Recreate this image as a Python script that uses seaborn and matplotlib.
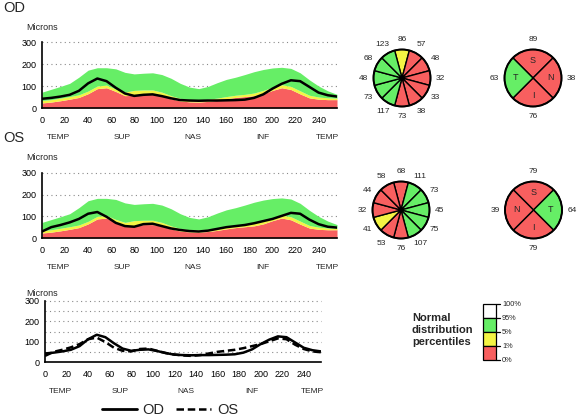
import matplotlib
matplotlib.use("Agg")
import numpy as np
import pandas as pd
import matplotlib.pyplot as plt
import seaborn as sns
from matplotlib.patches import Wedge, Circle, Rectangle
from matplotlib.lines import Line2D

# ---------------- data ----------------
angle_pos = list(range(0, 257, 8))
norm_p1 = [23, 27, 33, 40, 48, 65, 88, 92, 75, 56, 58, 62, 62, 55, 42, 32, 28,
           27, 30, 35, 42, 48, 52, 56, 65, 80, 92, 84, 64, 46, 40, 38, 38]
norm_p5 = [34, 38, 45, 52, 60, 77, 100, 104, 86, 72, 80, 82, 82, 72, 56, 44, 38,
           37, 40, 45, 52, 58, 62, 68, 80, 94, 106, 98, 78, 58, 50, 46, 45]
norm_p95 = [72, 85, 98, 112, 140, 172, 183, 183, 178, 162, 155, 158, 160, 152, 135, 112, 95,
            88, 98, 115, 130, 140, 152, 165, 175, 182, 185, 180, 160, 128, 100, 78, 62]
od_thickness = [42, 46, 52, 60, 78, 112, 134, 122, 92, 66, 55, 60, 62, 54, 44, 36, 34,
                33, 34, 34, 35, 36, 38, 46, 62, 88, 110, 126, 122, 96, 70, 58, 52]
os_thickness = [30, 50, 60, 72, 88, 112, 120, 98, 70, 55, 52, 64, 66, 55, 44, 37, 32,
                30, 34, 42, 50, 55, 60, 68, 78, 88, 102, 116, 112, 85, 64, 52, 48]

x_ticks = list(range(0, 241, 20))
y_ticks = [0, 100, 200, 300]
sector_names = ["TEMP", "SUP", "NAS", "INF", "TEMP"]
sector_pos = [14, 70, 131, 192, 248]

# clock hours in order 12, 1, 2, ..., 11
od_clock_values = [86, 57, 48, 32, 33, 38, 73, 117, 73, 48, 68, 123]
od_clock_status = ["Y", "R", "R", "R", "R", "R", "R", "G", "G", "G", "G", "G"]
os_clock_values = [68, 111, 73, 45, 75, 107, 76, 53, 41, 32, 44, 58]
os_clock_status = ["R", "G", "G", "G", "G", "G", "R", "R", "Y", "R", "R", "R"]

# quadrants in order top, right, bottom, left
od_quad_letters = ["S", "N", "I", "T"]
od_quad_values = [89, 38, 76, 63]
od_quad_status = ["R", "R", "R", "G"]
os_quad_letters = ["S", "T", "I", "N"]
os_quad_values = [79, 64, 79, 39]
os_quad_status = ["R", "G", "R", "R"]

legend_pcts = ["100%", "95%", "5%", "1%", "0%"]

RED = "#F85F5F"
YELLOW = "#F4F444"
GREEN = "#66EE66"
STATUS_COLORS = {"R": RED, "Y": YELLOW, "G": GREEN}

# ---------------- style ----------------
sns.set_style("white")
plt.rcParams["font.family"] = ["Liberation Sans", "DejaVu Sans"]

W, H = 579, 420
fig = plt.figure(figsize=(W / 100, H / 100), dpi=100)


def px_axes(x0, y0, x1, y1):
    return fig.add_axes([x0 / W, 1 - y1 / H, (x1 - x0) / W, (y1 - y0) / H])


def setup(ax, levels):
    ax.set_xlim(0, 256)
    ax.set_ylim(0, 300)
    ax.set_xticks(x_ticks)
    ax.set_xticks(list(range(0, 257, 10)), minor=True)
    ax.set_yticks(y_ticks)
    ax.set_yticks([50, 150, 250], minor=True)
    ax.tick_params(axis="both", which="both", direction="inout", length=4,
                   width=1, labelsize=6.5, pad=2, colors="black")
    ax.tick_params(axis="x", pad=4)
    for s in ["top", "right"]:
        ax.spines[s].set_visible(False)
    for s in ["left", "bottom"]:
        ax.spines[s].set_color("black")
        ax.spines[s].set_linewidth(1.2)
    for lev in levels:
        ax.axhline(lev, color="#8a8a8a", ls=(0, (1, 3)), lw=0.8, zorder=0.5,
                   clip_on=False)
    ax.set_xlabel("")
    ax.set_ylabel("")
    ax.grid(False)
    for name, pos in zip(sector_names, sector_pos):
        ax.annotate(name, xy=(pos, 0), xycoords=("data", "axes fraction"),
                    xytext=(0, -21), textcoords="offset points",
                    ha="center", va="center", fontsize=6)


def band_plot(ax, thickness):
    ax.fill_between(angle_pos, 0, norm_p1, color=RED, lw=0, zorder=1)
    ax.fill_between(angle_pos, norm_p1, norm_p5, color=YELLOW, lw=0, zorder=1)
    ax.fill_between(angle_pos, norm_p5, norm_p95, color=GREEN, lw=0, zorder=1)
    sns.lineplot(x=angle_pos, y=thickness, ax=ax, color="black", lw=1.8, zorder=3)
    setup(ax, [100, 200, 300])


ax1 = px_axes(42, 42, 337, 108)
band_plot(ax1, od_thickness)
ax2 = px_axes(42, 173, 337, 238)
band_plot(ax2, os_thickness)

ax3 = px_axes(45, 301, 321, 362)
df = pd.DataFrame({"pos": angle_pos * 2,
                   "thickness": od_thickness + os_thickness,
                   "eye": ["OD"] * len(angle_pos) + ["OS"] * len(angle_pos)})
sns.lineplot(data=df, x="pos", y="thickness", style="eye", ax=ax3,
             color="black", lw=1.8, dashes={"OD": "", "OS": (3, 1.5)}, legend=False,
             zorder=3)
setup(ax3, [50, 100, 150, 200, 250, 300])

handles = [Line2D([], [], color="black", lw=2),
           Line2D([], [], color="black", lw=1.8, ls=(0, (3, 1.5)))]
fig.legend(handles, ["OD", "OS"], loc="center", bbox_to_anchor=(170 / W, 1 - 410 / H),
           ncol=2, frameon=False, fontsize=10.5, handlelength=2.4,
           handletextpad=0.4, columnspacing=0.8)

# ---------------- overlay (circles, legend, labels) ----------------
ov = fig.add_axes([0, 0, 1, 1])
ov.set_xlim(0, W)
ov.set_ylim(H, 0)
ov.axis("off")

ov.text(3, 8, "OD", fontsize=10.5, va="center", ha="left")
ov.text(3, 138, "OS", fontsize=10.5, va="center", ha="left")
for yy in [27, 157, 294]:
    ov.text(26, yy, "Microns", fontsize=6.5, va="center", ha="left")


def clock(cx, cy, r, values, status):
    for i, (v, s) in enumerate(zip(values, status)):
        phi = 30 * i - 90  # data angle (y axis inverted)
        ov.add_patch(Wedge((cx, cy), r, phi - 15, phi + 15,
                           facecolor=STATUS_COLORS[s], edgecolor="black", lw=1.0))
        rl = r + 10
        ov.text(cx + rl * np.cos(np.radians(phi)), cy + rl * np.sin(np.radians(phi)),
                str(v), fontsize=6, ha="center", va="center")
    ov.add_patch(Circle((cx, cy), r, fill=False, edgecolor="black", lw=1.4))
    ov.add_patch(Circle((cx, cy), 2, color="black"))


def quadrant(cx, cy, r, letters, values, status):
    dirs = [-90, 0, 90, 180]
    for d, L, v, s in zip(dirs, letters, values, status):
        ov.add_patch(Wedge((cx, cy), r, d - 45, d + 45,
                           facecolor=STATUS_COLORS[s], edgecolor="black", lw=1.0))
        ov.text(cx + 0.6 * r * np.cos(np.radians(d)), cy + 0.6 * r * np.sin(np.radians(d)),
                L, fontsize=6.5, ha="center", va="center")
        rl = r + 10
        ov.text(cx + rl * np.cos(np.radians(d)), cy + rl * np.sin(np.radians(d)),
                str(v), fontsize=6, ha="center", va="center")
    ov.add_patch(Circle((cx, cy), r, fill=False, edgecolor="black", lw=1.4))


clock(402, 78, 28.5, od_clock_values, od_clock_status)
quadrant(533, 78, 28.5, od_quad_letters, od_quad_values, od_quad_status)
clock(401, 210, 28.5, os_clock_values, os_clock_status)
quadrant(533.5, 210, 28.5, os_quad_letters, os_quad_values, os_quad_status)

# percentile legend
ov.text(412, 330, "Normal\ndistribution\npercentiles", fontsize=8, fontweight="bold",
        ha="left", va="center", linespacing=1.25)
seg_colors = ["white", GREEN, YELLOW, RED]
top, seg_h, bx, bw = 304, 14, 483, 13
for k, c in enumerate(seg_colors):
    ov.add_patch(Rectangle((bx, top + k * seg_h), bw, seg_h, facecolor=c,
                           edgecolor="black", lw=0.9))
for k, lab in enumerate(legend_pcts):
    yy = top + k * seg_h
    ov.plot([bx + bw, bx + bw + 4], [yy, yy], color="black", lw=0.9)
    ov.text(bx + bw + 6, yy, lab, fontsize=5.3, ha="left", va="center")

fig.savefig("out.png", dpi=100)
